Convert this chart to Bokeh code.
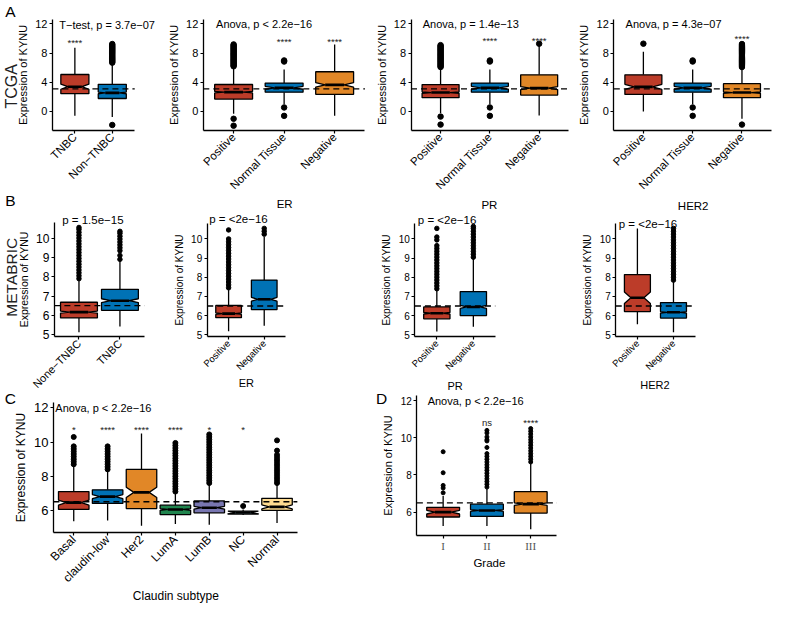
from math import pi
from bokeh.plotting import figure
from bokeh.layouts import row, column
from bokeh.models import Range1d, FixedTicker, Label
from bokeh.core.properties import value
from bokeh.embed import file_html
from bokeh.resources import INLINE

FONT = "Liberation Sans"
SERIF = "Liberation Serif"
RED = "#BC3C29"; BLUE = "#0072B5"; ORANGE = "#E18727"; GREEN = "#20854E"
PURPLE = "#7876B1"; SLATE = "#6F99AD"; YELLOW = "#FFDC91"

# ---------------- data: A (TCGA) ----------------
tnbc_cats = ["TNBC", "Non\u2212TNBC"]
tnbc_q1 = [2.44, 1.78]
tnbc_med = [3.4, 2.55]
tnbc_q3 = [5.07, 3.73]
tnbc_lo = [-0.58, -0.75]
tnbc_hi = [8.75, 6.6]
tnbc_notch = [0.35, 0.12]
tnbc_out = [[], [6.7, 6.85, 7.0, 7.15, 7.3, 7.45, 7.6, 7.75, 7.9, 8.05, 8.2, 8.35, 8.5, 8.65, 8.8, 8.95, 9.1, 9.25, -1.85]]
tnbc_sig = ["****", ""]

rec_cats = ["Positive", "Normal Tissue", "Negative"]

er_q1 = [1.7, 2.65, 2.35]
er_med = [2.65, 3.25, 3.65]
er_q3 = [3.7, 3.9, 5.45]
er_lo = [-0.3, 1.0, -0.6]
er_hi = [6.1, 5.75, 9.2]
er_notch = [0.1, 0.2, 0.3]
er_out = [[6.2, 6.35, 6.5, 6.65, 6.8, 6.95, 7.1, 7.25, 7.4, 7.55, 7.7, 7.85, 8.0, 8.15, 8.3, 8.45, 8.6, 8.75, 8.9, 9.05, 9.2, -1.0, -1.95],
          [7.0, 6.85, 0.55, -0.6], []]
er_sig = ["", "****", "****"]

pr_q1 = [1.89, 2.65, 2.25]
pr_med = [2.6, 3.25, 3.2]
pr_q3 = [3.69, 3.9, 5.03]
pr_lo = [-0.2, 1.0, -0.55]
pr_hi = [6.0, 5.75, 9.1]
pr_notch = [0.1, 0.2, 0.2]
pr_out = [[6.1, 6.25, 6.4, 6.55, 6.7, 6.85, 7.0, 7.15, 7.3, 7.45, 7.6, 7.75, 7.9, 8.05, 8.2, 8.35, 8.5, 8.65, 8.8, 8.95, 9.1, -0.7, -1.8],
          [7.0, 6.85, 0.55, -0.6], [9.3]]
pr_sig = ["", "****", "****"]

her_q1 = [2.34, 2.65, 1.89]
her_med = [3.37, 3.25, 2.6]
her_q3 = [5.03, 3.9, 3.82]
her_lo = [0.0, 1.0, -1.0]
her_hi = [8.2, 5.75, 6.0]
her_notch = [0.35, 0.2, 0.1]
her_out = [[9.3], [7.0, 6.85, 0.55, -0.6],
           [6.1, 6.25, 6.4, 6.55, 6.7, 6.85, 7.0, 7.15, 7.3, 7.45, 7.6, 7.75, 7.9, 8.05, 8.2, 8.35, 8.5, 8.65, 8.8, 8.95, 9.1, 9.25, -1.8]]
her_sig = ["", "", "****"]

# ---------------- data: B (METABRIC) ----------------
mtnbc_cats = ["None\u2212TNBC", "TNBC"]
mtnbc_q1 = [5.87, 6.26]
mtnbc_med = [6.17, 6.76]
mtnbc_q3 = [6.68, 7.35]
mtnbc_lo = [5.13, 5.42]
mtnbc_hi = [7.8, 8.8]
mtnbc_notch = [0.05, 0.1]
mtnbc_out = [[7.9, 8.05, 8.2, 8.35, 8.5, 8.65, 8.8, 8.95, 9.1, 9.25, 9.4, 9.55, 9.7, 9.85, 10.0, 10.15, 10.3, 10.45, 10.55],
             [8.9, 9.1, 9.35, 9.5, 9.65, 9.8, 9.95, 10.1, 10.25, 10.35]]

pn_cats = ["Positive", "Negative"]

mer_q1 = [5.89, 6.31]
mer_med = [6.1, 6.85]
mer_q3 = [6.53, 7.85]
mer_lo = [5.18, 5.47]
mer_hi = [7.35, 10.1]
mer_notch = [0.04, 0.1]
mer_out = [[7.45, 7.6, 7.75, 7.9, 8.05, 8.2, 8.35, 8.5, 8.65, 8.8, 8.95, 9.1, 9.25, 9.4, 9.55, 9.7, 9.85, 10.0, 10.47],
           [10.25, 10.4, 10.55]]

mpr_q1 = [5.83, 6.0]
mpr_med = [6.12, 6.45]
mpr_q3 = [6.45, 7.25]
mpr_lo = [5.17, 5.42]
mpr_hi = [7.33, 8.95]
mpr_notch = [0.04, 0.08]
mpr_out = [[7.4, 7.55, 7.7, 7.85, 8.0, 8.15, 8.3, 8.45, 8.6, 8.75, 8.9, 9.05, 9.2, 9.35, 9.5, 9.65, 9.95, 10.1, 10.55],
           [9.05, 9.2, 9.35, 9.5, 9.65, 9.8, 9.95, 10.1, 10.25, 10.4, 10.55, 10.65]]

mher_q1 = [6.21, 5.87]
mher_med = [6.93, 6.17]
mher_q3 = [8.14, 6.68]
mher_lo = [5.54, 5.13]
mher_hi = [10.54, 7.77]
mher_notch = [0.3, 0.04]
mher_out = [[], [7.85, 8.0, 8.15, 8.3, 8.45, 8.6, 8.75, 8.9, 9.05, 9.2, 9.35, 9.5, 9.65, 9.8, 9.95, 10.1, 10.25, 10.4, 10.55]]

# ---------------- data: C (Claudin subtype) ----------------
cl_cats = ["Basal", "claudin-low", "Her2", "LumA", "LumB", "NC", "Normal"]
cl_q1 = [6.05, 6.4, 6.1, 5.75, 5.85, 5.78, 6.0]
cl_med = [6.45, 6.8, 7.05, 6.05, 6.15, 5.87, 6.2]
cl_q3 = [7.1, 7.2, 8.4, 6.3, 6.55, 5.95, 6.7]
cl_lo = [5.35, 5.4, 5.1, 5.2, 5.15, 5.72, 5.25]
cl_hi = [8.6, 8.3, 10.5, 7.0, 7.5, 6.05, 7.5]
cl_notch = [0.15, 0.12, 0.3, 0.05, 0.08, 0.08, 0.12]
cl_out = [[8.7, 8.85, 9.0, 9.15, 9.3, 9.45, 9.6, 9.75, 10.3],
          [8.4, 8.55, 8.7, 8.85, 9.0, 9.15, 9.3, 9.45, 9.6, 9.75],
          [],
          [7.1, 7.25, 7.4, 7.55, 7.7, 7.85, 8.0, 8.15, 8.3, 8.45, 8.6, 8.75, 8.9, 9.05, 9.2, 9.35, 9.5, 9.65, 9.8, 9.95],
          [7.6, 7.75, 7.9, 8.05, 8.2, 8.35, 8.5, 8.65, 8.8, 8.95, 9.1, 9.25, 9.4, 9.55, 9.7, 9.85, 10.0, 10.15, 10.3, 10.45],
          [6.25],
          [7.6, 7.75, 7.9, 8.05, 8.2, 8.35, 8.5, 8.65, 8.8, 8.95, 9.1, 9.25, 9.5, 10.1]]
cl_sig = ["*", "****", "****", "****", "*", "*", ""]

# ---------------- data: D (Grade) ----------------
gr_cats = ["I", "II", "III"]
gr_q1 = [5.74, 5.77, 5.95]
gr_med = [6.0, 6.09, 6.43]
gr_q3 = [6.26, 6.43, 7.1]
gr_lo = [5.25, 5.25, 5.08]
gr_hi = [6.87, 7.25, 8.6]
gr_notch = [0.1, 0.05, 0.07]
gr_out = [[7.04, 7.3, 7.44, 8.12, 9.25],
          [7.35, 7.5, 7.65, 7.8, 7.95, 8.1, 8.25, 8.4, 8.55, 8.7, 8.85, 9.0, 9.15, 9.48, 9.83, 9.9, 10.05, 10.26, 10.4],
          [8.7, 8.85, 9.0, 9.15, 9.3, 9.45, 9.6, 9.75, 9.9, 10.05, 10.2, 10.35, 10.5]]
gr_sig = ["", "ns", "****"]

TCGA_REF = 3.1
META_REF = 6.5

# layout: positions given in reference-picture pixels, scaled to the 773x606 page
SX = 773.0 / 789.0
SY = 606.0 / 622.0


def X(v):
    return v * SX


def Y(v):
    return v * SY


def lab(p, geo, text, px, py, size, angle=0.0, align="center", base="middle", font=FONT, color="black"):
    fl, fb = geo
    p.add_layout(Label(x=X(px) - fl, y=fb - Y(py), x_units="screen", y_units="screen", text=text,
                       text_font=font, text_font_size=size, text_color=color, angle=angle,
                       text_align=align, text_baseline=base))


def panel(canvas, box, cats, q1, med, q3, lo, hi, notch, outl, colors, yr, yticks, bw, ref, dot,
          tick_fs, ylab_fs, xlab_fs, xorient=pi / 4, xfont=FONT, xcolor="black",
          sig=None, sig_y=None, sig_fs="9.5px", xl_standoff=2):
    cx, cy, cx2, cy2 = canvas
    W, H = cx2 - cx, cy2 - cy
    x0, y0, x1, y1 = X(box[0]), Y(box[1]), X(box[2]), Y(box[3])
    n = len(cats)
    xa, xb = 0.4, n + 0.6
    ya, yb = yr
    kx = (xb - xa) / (x1 - x0)
    ky = (yb - ya) / (y1 - y0)
    p = figure(width=W, height=H,
               x_range=Range1d(xa - (x0 - cx) * kx, xb + (cx2 - x1) * kx),
               y_range=Range1d(ya - (cy2 - y1) * ky, yb + (y0 - cy) * ky),
               output_backend="svg", toolbar_location=None, min_border=0,
               min_border_left=0, min_border_right=0, min_border_top=0, min_border_bottom=0)
    p.xgrid.visible = False
    p.ygrid.visible = False
    p.outline_line_color = None
    centers = [i + 1 for i in range(n)]
    h = bw / 2
    xs, ys = [], []
    for i, c in enumerate(centers):
        nl = med[i] - notch[i]
        nu = med[i] + notch[i]
        xs.append([c - h, c - h, c - h / 2, c - h, c - h, c + h, c + h, c + h / 2, c + h, c + h])
        ys.append([q3[i], nu, med[i], nl, q1[i], q1[i], nl, med[i], nu, q3[i]])
    p.segment(centers, q3, centers, hi, line_color="black", line_width=1.3)
    p.segment(centers, q1, centers, lo, line_color="black", line_width=1.3)
    p.patches(xs, ys, fill_color=colors[:n], line_color="black", line_width=1.3)
    p.segment([c - h / 2 for c in centers], med, [c + h / 2 for c in centers], med,
              line_color="black", line_width=2.6)
    ox = [centers[i] for i, o in enumerate(outl) for v in o]
    oy = [v for o in outl for v in o]
    p.scatter(ox, oy, size=dot, color="black")
    p.segment([xa], [ref], [xb], [ref], line_color="black", line_dash="6 4", line_width=1.3)
    if sig is not None:
        p.text(centers, [sig_y] * n, text=sig, text_font=value(FONT), text_font_size=sig_fs,
               text_color="#222222", text_align="center", text_baseline="middle")
    for ax in (p.xaxis[0], p.yaxis[0]):
        ax.axis_line_width = 1.3
        ax.axis_line_color = "black"
        ax.major_tick_line_color = "black"
        ax.major_tick_line_width = 1.2
        ax.major_tick_in = 0
        ax.major_tick_out = 3
        ax.minor_tick_line_color = None
        ax.major_label_text_font = FONT
        ax.major_label_text_color = "black"
        ax.major_label_standoff = 2
        ax.axis_label_text_font = FONT
        ax.axis_label_text_font_style = "normal"
        ax.axis_label_text_color = "black"
        ax.axis_label_standoff = 3
    p.xaxis.fixed_location = ya
    p.xaxis.bounds = (xa, xb)
    p.yaxis.fixed_location = xa
    p.yaxis.bounds = (ya, yb)
    p.xaxis.ticker = FixedTicker(ticks=centers)
    p.xaxis.major_label_overrides = {c: t for c, t in zip(centers, cats)}
    p.xaxis.major_label_orientation = xorient
    p.xaxis.major_label_text_font_size = xlab_fs
    p.xaxis.major_label_text_font = xfont
    p.xaxis.major_label_text_color = xcolor
    p.xaxis.major_label_standoff = xl_standoff
    p.yaxis.ticker = FixedTicker(ticks=yticks)
    p.yaxis.major_label_text_font_size = tick_fs
    p.yaxis.axis_label = "Expression of KYNU"
    p.yaxis.axis_label_text_font_size = ylab_fs
    geo = (cx, cy2)
    return p, geo


# ---------------- Row A ----------------
A_YR = (-2.55, 12.55)
A_T = [0, 4, 8, 12]
tri = [RED, BLUE, ORANGE]
RA = (0, 193)

a1, g = panel((0, RA[0], 167, RA[1]), (53, 20, 137, 133), tnbc_cats, tnbc_q1, tnbc_med, tnbc_q3, tnbc_lo,
              tnbc_hi, tnbc_notch, tnbc_out, [RED, BLUE], A_YR, A_T, 0.75, TCGA_REF, 5.5,
              "11px", "11px", "11.5px", sig=tnbc_sig, sig_y=9.4)
lab(a1, g, "A", 10, 11, "15.5px")
lab(a1, g, "TCGA", 11, 88, "16px", angle=pi / 2, color="#222222")
lab(a1, g, "T\u2212test, p = 3.7e\u221207", 60, 25, "11px", align="left")

a2, g = panel((167, RA[0], 374, RA[1]), (207, 20, 372, 133), rec_cats, er_q1, er_med, er_q3, er_lo, er_hi,
              er_notch, er_out, tri, A_YR, A_T, 0.75, TCGA_REF, 5.5, "11px", "11px", "11.5px",
              sig=er_sig, sig_y=9.65)
lab(a2, g, "Anova, p < 2.2e\u221216", 220, 24, "11px", align="left")

a3, g = panel((374, RA[0], 578, RA[1]), (419, 20, 580, 133), rec_cats, pr_q1, pr_med, pr_q3, pr_lo, pr_hi,
              pr_notch, pr_out, tri, A_YR, A_T, 0.75, TCGA_REF, 5.5, "11px", "11px", "11.5px",
              sig=pr_sig, sig_y=9.8)
lab(a3, g, "Anova, p = 1.4e\u221213", 431, 24, "11px", align="left")

a4, g = panel((578, RA[0], 773, RA[1]), (626, 20, 787, 133), rec_cats, her_q1, her_med, her_q3, her_lo,
              her_hi, her_notch, her_out, tri, A_YR, A_T, 0.75, TCGA_REF, 5.5, "11px", "11px", "11.5px",
              sig=her_sig, sig_y=10.0)
lab(a4, g, "Anova, p = 4.3e\u221207", 638, 24, "11px", align="left")

# ---------------- Row B ----------------
B_YR = (4.9, 10.8)
B_T = [5, 6, 7, 8, 9, 10]
RB = (193, 391)

b1, g = panel((0, RB[0], 171, RB[1]), (55, 228, 147, 345), mtnbc_cats, mtnbc_q1, mtnbc_med, mtnbc_q3,
              mtnbc_lo, mtnbc_hi, mtnbc_notch, mtnbc_out, [RED, BLUE], B_YR, B_T, 0.9, META_REF, 4.5,
              "12px", "10.5px", "11px")
lab(b1, g, "B", 10, 205, "15.5px")
lab(b1, g, "METABRIC", 11, 284, "15.5px", angle=pi / 2, color="#222222")
lab(b1, g, "p = 1.5e\u221215", 63, 225, "11.5px", align="left")

b2, g = panel((171, RB[0], 378, RB[1]), (211, 229, 291, 345), pn_cats, mer_q1, mer_med, mer_q3, mer_lo,
              mer_hi, mer_notch, mer_out, [RED, BLUE], B_YR, B_T, 0.72, META_REF, 4.5,
              "10px", "10px", "9.5px")
lab(b2, g, "p = <2e\u221216", 213, 224, "11.5px", align="left")
lab(b2, g, "ER", 290, 209, "11.5px")
lab(b2, g, "ER", 251, 393, "11px")

b3, g = panel((378, RB[0], 580, RB[1]), (423, 229, 505, 345), pn_cats, mpr_q1, mpr_med, mpr_q3, mpr_lo,
              mpr_hi, mpr_notch, mpr_out, [RED, BLUE], B_YR, B_T, 0.72, META_REF, 4.5,
              "10px", "10px", "9.5px")
lab(b3, g, "p = <2e\u221216", 426, 225, "11.5px", align="left")
lab(b3, g, "PR", 499, 210, "11.5px")
lab(b3, g, "PR", 464, 396, "11px")

b4, g = panel((580, RB[0], 773, RB[1]), (628, 229, 709, 345), pn_cats, mher_q1, mher_med, mher_q3,
              mher_lo, mher_hi, mher_notch, mher_out, [RED, BLUE], B_YR, B_T, 0.72, META_REF, 4.5,
              "10px", "10px", "9.5px")
lab(b4, g, "p = <2e\u221216", 631, 229, "11.5px", align="left")
lab(b4, g, "HER2", 707, 211, "11.5px")
lab(b4, g, "HER2", 668, 395, "11px")

# ---------------- Row C / D ----------------
RC = (391, 606)
cpanel, g = panel((0, RC[0], 374, RC[1]), (54, 413, 303, 546), cl_cats, cl_q1, cl_med, cl_q3, cl_lo, cl_hi,
                  cl_notch, cl_out, [RED, BLUE, ORANGE, GREEN, PURPLE, SLATE, YELLOW], (4.7, 12.3),
                  [6, 8, 10, 12], 0.9, META_REF, 5, "13px", "12px", "12px", sig=cl_sig, sig_y=10.75)
lab(cpanel, g, "C", 10, 408, "15.5px")
lab(cpanel, g, "Anova, p < 2.2e\u221216", 56, 418, "11px", align="left")
lab(cpanel, g, "Claudin subtype", 179, 611, "12px")

dpanel, g = panel((374, RC[0], 773, RC[1]), (425, 405, 568, 549), gr_cats, gr_q1, gr_med, gr_q3, gr_lo,
                  gr_hi, gr_notch, gr_out, [RED, BLUE, ORANGE], (4.75, 12.3), [6, 8, 10, 12], 0.75,
                  META_REF, 4, "10px", "11px", "11px", xorient="horizontal", xfont=SERIF,
                  xcolor="#555555", sig=gr_sig, sig_y=10.8)
lab(dpanel, g, "D", 389, 408, "15.5px")
lab(dpanel, g, "Anova, p < 2.2e\u221216", 436, 411, "11px", align="left")
lab(dpanel, g, "Grade", 499, 577, "11.5px")

layout = column(row(a1, a2, a3, a4), row(b1, b2, b3, b4), row(cpanel, dpanel))
p = layout
open("out.html", "w").write(file_html(p, INLINE))
